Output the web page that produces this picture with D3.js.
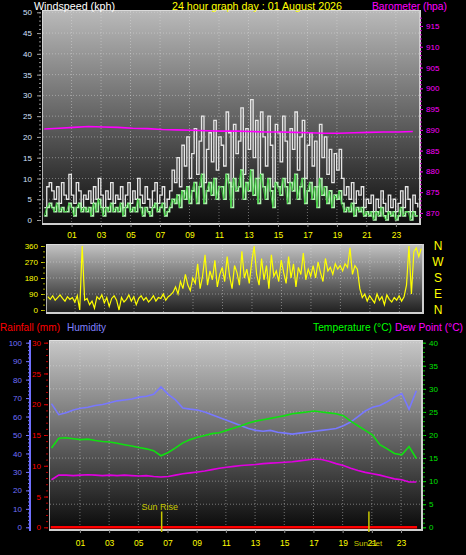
<!DOCTYPE html>
<html><head><meta charset="utf-8">
<script src="https://cdn.jsdelivr.net/npm/d3@7"></script>
<style>
body{margin:0;background:#000}
svg{display:block}
text{font-family:"Liberation Sans",Arial,sans-serif}
</style></head>
<body><svg id="c" width="466" height="555"></svg>
<script>
// ---------- DATA ----------
const title = "24 hour graph day : 01 August 2026";
const hourTicks = [1,3,5,7,9,11,13,15,17,19,21,23];
const hourLabels = ["01","03","05","07","09","11","13","15","17","19","21","23"];
// 10-minute samples, first sample at -0.85 h
const windStart = -0.85, windStep = 1/6;
const gust = [3,8,9,7,5,8,4,9,6,
  5,11,6,4,9,7,3,6,5,
  7,4,8,5,10,6,3,7,5,9,4,6,
  5,8,3,6,9,4,7,5,10,6,4,8,
  5,3,7,9,4,6,8,3,5,
  7,12,9,15,8,18,13,20,10,
  16,22,11,19,25,9,17,21,14,24,12,20,
  18,13,26,21,8,23,16,19,27,11,22,17,
  29,15,24,10,26,20,13,25,18,8,23,21,
  14,25,19,9,22,17,26,12,20,24,10,18,
  21,13,19,8,23,15,20,11,17,9,16,12,
  17,10,6,8,5,9,4,7,6,8,3,5,
  4,6,2,5,3,7,4,2,6,3,5,2,
  4,7,3,8,5,2,6,4,3];
const avgWind = [1,3,4,3,2,4,2,3,2,
  2,4,3,1,3,4,2,3,2,
  3,1,4,2,5,3,1,3,2,4,2,3,
  2,4,1,3,4,2,3,2,5,3,1,3,
  2,1,3,4,2,3,4,1,2,
  3,5,4,6,3,7,5,8,4,
  7,9,4,8,11,4,7,9,6,10,5,8,
  8,5,11,9,3,10,7,8,12,5,9,7,
  12,6,10,4,11,8,5,10,7,3,9,8,
  6,10,8,4,9,7,11,5,8,10,4,7,
  9,5,8,3,10,6,8,4,7,3,6,5,
  7,4,2,3,2,4,1,3,2,3,1,2,
  1,2,0,2,1,3,1,0,2,1,2,0,
  1,3,1,2,2,0,2,1,1];
const windDir = [75,60,80,55,70,85,65,50,75,
  60,70,45,80,0,360,55,65,30,
  50,10,75,60,85,40,70,20,65,80,55,0,
  70,45,60,85,50,75,30,65,80,55,70,45,
  60,80,50,70,65,90,55,75,85,
  100,130,90,160,120,200,140,110,180,
  150,260,120,190,310,140,220,170,280,130,200,240,
  160,300,190,120,250,210,140,330,180,230,150,270,
  360,200,140,290,170,250,120,310,190,220,160,280,
  210,150,300,180,260,130,240,200,320,170,230,190,
  250,180,270,210,160,290,220,240,200,260,230,250,
  220,260,240,350,200,250,230,120,70,90,50,80,
  60,40,90,55,75,30,85,60,45,70,55,80,
  50,75,140,360,90,330,350,300,345];
// hourly barometer, first sample at -0.85 h
const baroStart = -0.85, baroStep = 1;
const baro = [890.2,890.4,890.6,890.8,890.7,890.6,890.4,890.3,890.1,890.0,889.9,889.8,889.7,
  889.7,889.6,889.5,889.5,889.4,889.3,889.2,889.2,889.3,889.4,889.5,889.5,889.6];
// half-hour samples, first at -0.95 h
const climStart = -0.95, climStep = 0.5;
const humidity = [67,61,62,63.5,64.5,65,66,66.5,67.5,68.5,69,69.5,70.5,71,72,76,72,69,64.6,64,
  63.5,62.5,61,59.5,58,56.5,55,53.5,52.5,52,52.5,51.5,51,50.5,51,51.5,52,52.5,53,53.5,
  55,57,60,63,65,66,68,70.5,72.5,64,74];
const temperature = [17.2,19.3,19.4,19.2,19.0,19.1,18.8,18.6,18.5,18.2,17.9,17.6,17.3,17.0,16.6,15.5,16.2,17.2,18.3,19.0,
  19.5,19.9,20.3,20.5,21.0,21.5,22.0,22.6,23.0,23.3,23.6,23.9,24.2,24.6,24.8,25.0,25.2,25.0,24.8,24.6,
  24.2,23.0,22.0,21.0,20.0,17.9,17.0,16.0,15.7,17.5,14.9];
const dewPoint = [10.3,11.3,11.3,11.2,11.3,11.4,11.3,11.2,11.3,11.2,11.3,11.2,11.1,11.2,11.0,10.9,11.0,11.3,11.6,11.8,
  12.0,12.2,12.5,12.8,13.0,13.2,13.4,13.5,13.6,13.8,13.9,14.0,14.1,14.2,14.4,14.6,14.8,14.7,14.3,13.8,
  13.4,12.8,12.3,11.9,11.6,11.3,10.9,10.5,10.3,9.8,9.8];
const rainfall = [0,0];
const sunRise = 6.6, sunSet = 20.8;

// ---------- DRAW ----------
const svg = d3.select("#c");
const defs = svg.append("defs");
function grad(id, c1, c2){
  const g = defs.append("linearGradient").attr("id",id).attr("x1",0).attr("y1",0).attr("x2",0).attr("y2",1);
  g.append("stop").attr("offset",0).attr("stop-color",c1);
  g.append("stop").attr("offset",1).attr("stop-color",c2);
}
grad("gTop","#bababa","#0c0c0c");
grad("gMid","#c4c4c4","#1c1c1c");
grad("gBot","#c8c8c8","#080808");

function panel(x0,y0,x1,y1,gid){
  svg.append("rect").attr("x",x0).attr("y",y0).attr("width",x1-x0).attr("height",y1-y0).attr("fill",`url(#${gid})`);
  svg.append("path").attr("d",`M${x0+0.5},${y1}V${y0+0.5}H${x1}`).attr("stroke","#e8e8e8").attr("stroke-width",1).attr("fill","none").attr("opacity",0.7);
  svg.append("path").attr("d",`M${x0},${y1-1}H${x1-1}V${y0}`).attr("stroke","#cfcfcf").attr("stroke-width",2).attr("fill","none");
}
function grid(xs, ys, x0,x1,y0,y1){
  const g = svg.append("g").attr("stroke","#e0e0e0").attr("stroke-opacity",0.45).attr("stroke-dasharray","1,2");
  xs.forEach(x=>g.append("line").attr("x1",x).attr("x2",x).attr("y1",y0).attr("y2",y1));
  ys.forEach(y=>g.append("line").attr("x1",x0).attr("x2",x1).attr("y1",y).attr("y2",y));
}
function styleAxis(g, color, fs, lineColor){
  g.selectAll("text").attr("fill",color).style("font-size",fs+"px");
  g.selectAll("line").attr("stroke",lineColor||color);
  g.select(".domain").remove();
}
function minor(axisFn, scale, vals, x, y, size, color){
  const g = svg.append("g").attr("transform",`translate(${x},${y})`)
    .call(axisFn(scale).tickValues(vals).tickSize(size).tickFormat(""));
  g.select(".domain").remove();
  g.selectAll("line").attr("stroke",color);
  return g;
}
function label(x,y,color,txt,len,fs){
  svg.append("text").attr("x",x).attr("y",y).attr("fill",color).style("font-size",(fs||11)+"px")
    .attr("textLength",len).attr("lengthAdjust","spacingAndGlyphs").text(txt);
}

// ===== Top chart: wind / barometer =====
const xTop = d3.scaleLinear([-0.87,24.5],[44,418]);
const yWind = d3.scaleLinear([0,50],[220,12.3]);
const yBaro = d3.scaleLinear([868.3,918.3],[220,12.3]);
panel(42,10,421,225,"gTop");
grid(hourTicks.map(xTop), d3.range(5,51,5).map(yWind), 43,419,11,223);

const windT = gust.map((_,i)=>windStart+i*windStep);
const stepLine = (ys,arr)=>d3.line().curve(d3.curveStepAfter).x((d,i)=>xTop(windT[i])).y(d=>ys(d))(arr);
svg.append("path").attr("d",stepLine(yWind,gust)).attr("fill","none").attr("stroke","#e6e6e6").attr("stroke-width",1.3);
svg.append("path").attr("d",stepLine(yWind,avgWind)).attr("fill","none").attr("stroke","#b4f4b4").attr("stroke-width",1.6);
svg.append("path").attr("d",d3.line().x((d,i)=>xTop(windT[i])).y(d=>yWind(d))(avgWind)).attr("fill","none").attr("stroke","#30d030").attr("stroke-width",0.8);
svg.append("path").attr("d",d3.line().x((d,i)=>xTop(baroStart+i*baroStep)).y(d=>yBaro(d))(baro))
  .attr("fill","none").attr("stroke","#ff00ff").attr("stroke-width",1.6);

let ax = svg.append("g").attr("transform","translate(41,0)")
  .call(d3.axisLeft(yWind).tickValues(d3.range(0,51,5)).tickSize(4).tickPadding(5));
styleAxis(ax,"#d4e0ff",8,"#a0a0a0");
minor(d3.axisLeft,yWind,d3.range(0,51,1),41,0,2,"#909090");
ax = svg.append("g").attr("transform","translate(420,0)")
  .call(d3.axisRight(yBaro).tickValues(d3.range(870,916,5)).tickSize(3).tickPadding(3));
styleAxis(ax,"#ff00ff",8);
minor(d3.axisRight,yBaro,d3.range(869,918,1),420,0,2,"#c000c0");
ax = svg.append("g").attr("transform","translate(0,224)")
  .call(d3.axisBottom(xTop).tickValues(hourTicks).tickFormat((d,i)=>hourLabels[i]).tickSize(3).tickPadding(5));
styleAxis(ax,"#ffff00",8.5,"#909090");

label(34,9.5,"#fff","Windspeed (kph)",81);
label(172,9.5,"#ffff00",title,170);
label(372,9.5,"#ff00ff","Barometer (hpa)",75,10.5);

// ===== Middle chart: wind direction =====
const xMid = d3.scaleLinear([-0.87,24.5],[47.5,421.5]);
const yDir = d3.scaleLinear([0,360],[310,246]);
panel(46,244,424,314,"gMid");
grid(hourTicks.map(xMid), [90,180,270].map(yDir), 47,422,245,312);
svg.append("path").attr("d",d3.line().x((d,i)=>xMid(windT[i])).y(d=>yDir(d))(windDir))
  .attr("fill","none").attr("stroke","#ffff00").attr("stroke-width",1.2);
ax = svg.append("g").attr("transform","translate(45,0)")
  .call(d3.axisLeft(yDir).tickValues([0,90,180,270,360]).tickSize(4).tickPadding(3));
styleAxis(ax,"#ffff00",8,"#c8c800");
minor(d3.axisLeft,yDir,d3.range(0,361,30),45,0,2,"#a0a000");
const compass = ["N","W","S","E","N"], compassDeg = [360,270,180,90,0];
svg.append("g").selectAll("text").data(compass).join("text")
  .attr("x",438).attr("y",(d,i)=>yDir(compassDeg[i])).attr("dy","0.36em").attr("text-anchor","middle")
  .attr("fill","#ffff00").style("font-size","12px").text(d=>d);

// ===== Bottom chart: rain / humidity / temperature =====
const xBot = d3.scaleLinear([-1.05,24.3],[50,420]);
const yHum = d3.scaleLinear([0,100],[527.3,342.7]);
const yRain = d3.scaleLinear([0,30],[527.3,342.7]);
const yTemp = d3.scaleLinear([0,40],[527.3,342.7]);
panel(49,340,423,531,"gBot");
grid(hourTicks.map(xBot), d3.range(5,41,5).map(yTemp), 50,421,341,529);

const climT = humidity.map((_,i)=>climStart+i*climStep);
const cl = (ys,arr)=>d3.line().x((d,i)=>xBot(climT[i])).y(d=>ys(d))(arr);
svg.append("path").attr("d",cl(yHum,humidity)).attr("fill","none").attr("stroke","#7878ff").attr("stroke-width",1.6);
svg.append("path").attr("d",cl(yTemp,temperature)).attr("fill","none").attr("stroke","#10e010").attr("stroke-width",1.6);
svg.append("path").attr("d",cl(yTemp,dewPoint)).attr("fill","none").attr("stroke","#e000e0").attr("stroke-width",1.6);
svg.append("path").attr("d",d3.line().x((d,i)=>xBot(i?24.1:-1.0)).y(d=>yRain(d))(rainfall))
  .attr("fill","none").attr("stroke","#ff0000").attr("stroke-width",2.5);

[sunRise,sunSet].forEach(h=>svg.append("line").attr("x1",xBot(h)).attr("x2",xBot(h)).attr("y1",511.5).attr("y2",532)
  .attr("stroke","#c8c800").attr("stroke-width",1.5));
svg.append("text").attr("x",xBot(sunRise)-2).attr("y",510).attr("text-anchor","middle").attr("fill","#c8c800").style("font-size","9px").text("Sun Rise");

// humidity axis
ax = svg.append("g").attr("transform","translate(30,0)")
  .call(d3.axisLeft(yHum).tickValues(d3.range(0,101,10)).tickSize(4).tickPadding(4));
styleAxis(ax,"#7070ff",8);
minor(d3.axisLeft,yHum,d3.range(0,101,2),30,0,2,"#7070ff");
svg.append("line").attr("x1",30).attr("x2",30).attr("y1",340).attr("y2",531).attr("stroke","#7070ff").attr("stroke-width",2);
// rainfall axis
ax = svg.append("g").attr("transform","translate(48,0)")
  .call(d3.axisLeft(yRain).tickValues(d3.range(0,31,5)).tickSize(4).tickPadding(3));
styleAxis(ax,"#ff0000",8,"#e00000");
minor(d3.axisLeft,yRain,d3.range(0,31,1),48,0,2,"#c00000");
// temperature axis
ax = svg.append("g").attr("transform","translate(423,0)")
  .call(d3.axisRight(yTemp).tickValues(d3.range(0,41,5)).tickSize(3).tickPadding(3));
styleAxis(ax,"#00e000",8);
minor(d3.axisRight,yTemp,d3.range(0,41,1),423,0,2,"#00b000");
// time axis
ax = svg.append("g").attr("transform","translate(0,530)")
  .call(d3.axisBottom(xBot).tickValues(hourTicks).tickFormat((d,i)=>hourLabels[i]).tickSize(3).tickPadding(6.5));
styleAxis(ax,"#ffff00",8.5,"#909090");
svg.append("text").attr("x",xBot(sunSet)-1).attr("y",545.5).attr("text-anchor","middle").attr("fill","#c8c800").style("font-size","8px").text("Sun Set");

label(0,331,"#ff0000","Rainfall (mm)",60,10.5);
label(67,331,"#8080ff","Humidity",39,10.5);
label(313,331,"#00ff00","Temperature (°C)",79,10);
label(395,331,"#ff00ff","Dew Point (°C)",68,10);
</script></body></html>
